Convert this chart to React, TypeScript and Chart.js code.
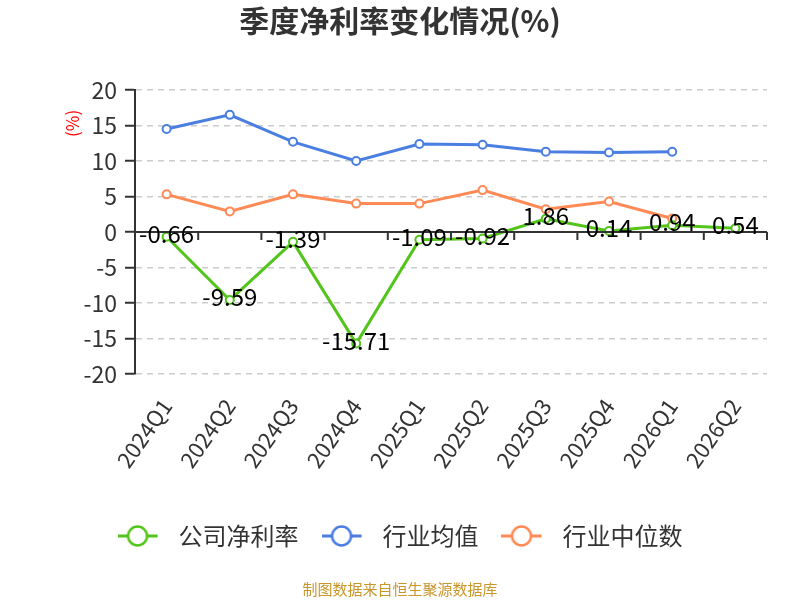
import React, { useEffect, useRef } from 'react';
import { Chart, registerables } from 'chart.js';

Chart.register(...registerables);

const quarters = ['2024Q1', '2024Q2', '2024Q3', '2024Q4', '2025Q1', '2025Q2', '2025Q3', '2025Q4', '2026Q1', '2026Q2'];
const companyRate = [-0.66, -9.59, -1.39, -15.71, -1.09, -0.92, 1.86, 0.14, 0.94, 0.54];
const industryAvg = [14.5, 16.5, 12.7, 10.0, 12.4, 12.3, 11.3, 11.2, 11.3, null];
const industryMedian = [5.3, 2.9, 5.3, 4.0, 4.0, 5.9, 3.2, 4.3, 1.9, null];
const seriesNames = ['公司净利率', '行业均值', '行业中位数'];
const seriesColors = ['#52c41a', '#4a7ee0', '#ff8a56'];

const FONT = '"Noto Sans CJK SC", "Noto Sans", sans-serif';

// legend marker: short line with a hollow circle in the middle
const makeMarker = (color: string) => {
  const c = document.createElement('canvas');
  c.width = 49;
  c.height = 24;
  const g = c.getContext('2d')!;
  g.strokeStyle = color;
  g.lineWidth = 3;
  g.beginPath();
  g.moveTo(0, 12);
  g.lineTo(40, 12);
  g.stroke();
  g.fillStyle = '#fff';
  g.lineWidth = 2.5;
  g.beginPath();
  g.arc(20, 12, 9.5, 0, Math.PI * 2);
  g.fill();
  g.stroke();
  return c;
};

const zeroAxisPlugin = {
  id: 'zeroAxis',
  afterDatasetsDraw(chart: any) {
    const { ctx, chartArea, scales } = chart;
    const y0 = scales.y.getPixelForValue(0);
    const xs = scales.x;
    const half = (xs.getPixelForValue(1) - xs.getPixelForValue(0)) / 2;
    ctx.save();
    ctx.strokeStyle = '#333';
    ctx.lineWidth = 2;
    ctx.beginPath();
    ctx.moveTo(chartArea.left, y0);
    ctx.lineTo(chartArea.right, y0);
    for (let i = 0; i <= quarters.length; i++) {
      const x = i < quarters.length ? xs.getPixelForValue(i) - half : xs.getPixelForValue(i - 1) + half;
      ctx.moveTo(x, y0);
      ctx.lineTo(x, y0 + 8);
    }
    ctx.stroke();
    ctx.restore();
  },
};

const labelsPlugin = {
  id: 'valueLabels',
  afterDatasetsDraw(chart: any) {
    const { ctx } = chart;
    const meta = chart.getDatasetMeta(0);
    ctx.save();
    ctx.font = `24px ${FONT}`;
    ctx.fillStyle = '#000';
    ctx.textAlign = 'center';
    ctx.textBaseline = 'middle';
    meta.data.forEach((pt: any, i: number) => {
      ctx.fillText(companyRate[i].toFixed(2), pt.x, pt.y - 3);
    });
    ctx.restore();
  },
};

const extrasPlugin = {
  id: 'extras',
  afterDraw(chart: any) {
    const { ctx, scales, chartArea } = chart;
    ctx.save();
    // y axis unit
    ctx.translate(chartArea.left - 62, scales.y.getPixelForValue(15.3));
    ctx.rotate(-Math.PI / 2);
    ctx.font = `17px ${FONT}`;
    ctx.fillStyle = '#ff0000';
    ctx.textAlign = 'center';
    ctx.textBaseline = 'middle';
    ctx.fillText('(%)', 0, 0);
    ctx.restore();
    ctx.save();
    ctx.font = `15px ${FONT}`;
    ctx.fillStyle = '#c9962c';
    ctx.textAlign = 'center';
    ctx.textBaseline = 'middle';
    ctx.fillText('制图数据来自恒生聚源数据库', chart.width / 2, 589);
    ctx.restore();
  },
};

const App: React.FC = () => {
  const canvasRef = useRef<HTMLCanvasElement | null>(null);

  useEffect(() => {
    if (!canvasRef.current) return;
    const markers = seriesColors.map(makeMarker);
    const makeSet = (i: number, data: (number | null)[]) => ({
      label: seriesNames[i],
      data,
      borderColor: seriesColors[i],
      backgroundColor: '#fff',
      pointBackgroundColor: '#fff',
      pointBorderColor: seriesColors[i],
      borderWidth: 3,
      pointRadius: 4,
      pointBorderWidth: 2,
      tension: 0,
    });
    const chart = new Chart(canvasRef.current, {
      type: 'line',
      data: {
        labels: quarters,
        datasets: [makeSet(0, companyRate), makeSet(1, industryAvg), makeSet(2, industryMedian)],
      },
      options: {
        animation: false,
        responsive: false,
        layout: { padding: { left: 33, right: 33, bottom: 42 } },
        scales: {
          x: {
            offset: true,
            grid: { display: false },
            border: { display: false },
            afterFit: (scale: any) => {
              scale.height = 127;
            },
            ticks: {
              color: '#333',
              font: { family: FONT, size: 22 },
              minRotation: 55,
              maxRotation: 55,
              padding: 12,
            },
          },
          y: {
            min: -20,
            max: 20,
            afterFit: (scale: any) => {
              scale.width = 102;
            },
            ticks: {
              stepSize: 5,
              color: '#333',
              font: { family: FONT, size: 23 },
              padding: 8,
            },
            grid: {
              color: '#cccccc',
              lineWidth: 1.5,
              tickColor: '#333',
              tickLength: 10,
              tickWidth: 2,
            },
            border: { color: '#333', width: 2, dash: [6, 5] },
          },
        },
        plugins: {
          title: {
            display: true,
            text: '季度净利率变化情况(%)',
            color: '#333',
            font: { family: FONT, size: 30, weight: 'bold' },
            padding: { top: 3, bottom: 51 },
          },
          legend: {
            position: 'bottom',
            labels: {
              color: '#333',
              font: { family: FONT, size: 24 },
              usePointStyle: true,
              pointStyleWidth: 49,
              padding: 23,
              generateLabels: (c: any) =>
                Chart.defaults.plugins.legend.labels.generateLabels(c).map((item: any, i: number) => ({
                  ...item,
                  pointStyle: markers[i],
                })),
            },
          },
          tooltip: { enabled: false },
        },
      },
      plugins: [zeroAxisPlugin, labelsPlugin, extrasPlugin],
    });
    return () => chart.destroy();
  }, []);

  return (
    <div style={{ position: 'fixed', left: 0, top: 0, width: 800, height: 600, background: '#fff' }}>
      <canvas ref={canvasRef} width={800} height={600} />
    </div>
  );
};

export default App;
